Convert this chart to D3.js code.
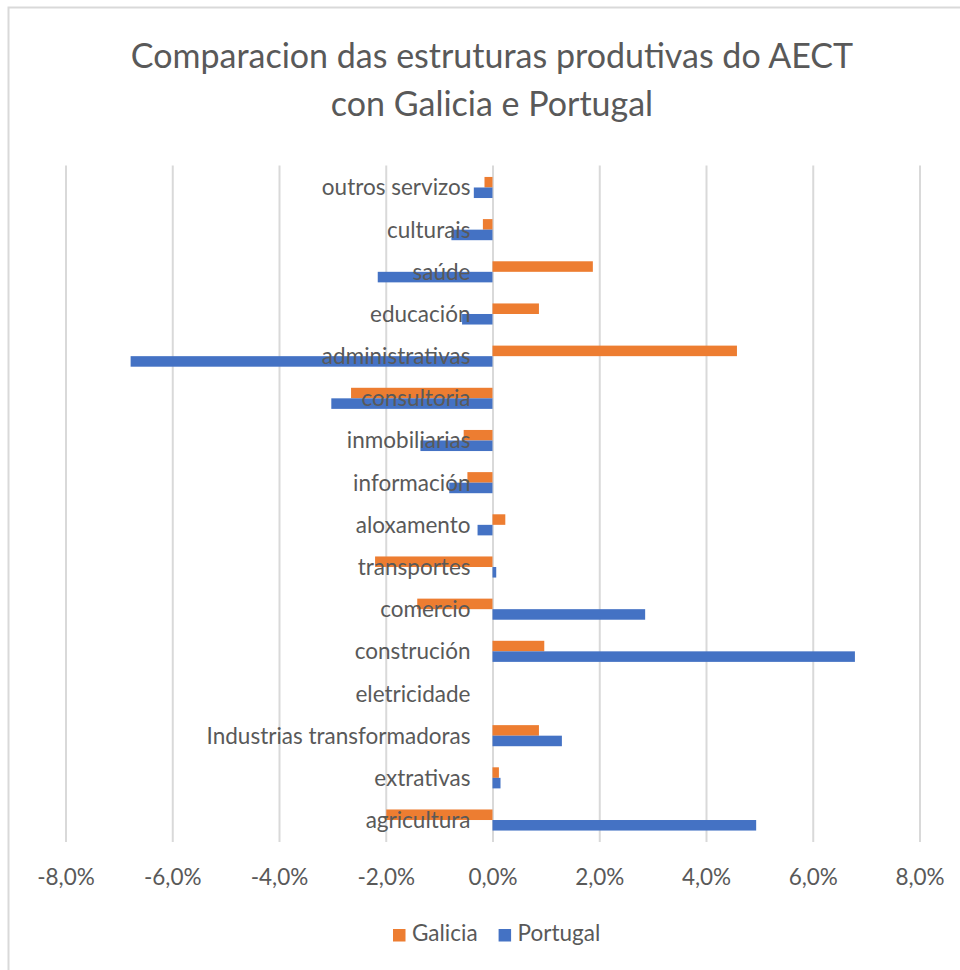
<!DOCTYPE html>
<html>
<head>
<meta charset="utf-8">
<script src="https://cdn.jsdelivr.net/npm/d3@7"></script>
<style>
  body { margin: 0; background: #fff; }
  svg text { font-family: Lato, "Open Sans", sans-serif; fill: #595959; }
</style>
</head>
<body>
<svg id="chart" width="960" height="970"></svg>
<script>
// data, in the sheet's order (first row is drawn at the bottom)
var categories = ["agricultura", "extrativas", "Industrias transformadoras", "eletricidade",
  "construción", "comercio", "transportes", "aloxamento", "información", "inmobiliarias",
  "consultoria", "administrativas", "educación", "saúde", "culturais", "outros servizos"];
var galicia = [-1.99, 0.12, 0.87, 0, 0.97, -1.41, -2.2, 0.24, -0.47, -0.54, -2.65, 4.58, 0.87, 1.88, -0.18, -0.15];
var portugal = [4.94, 0.15, 1.30, 0, 6.79, 2.86, 0.07, -0.28, -0.81, -1.35, -3.02, -6.78, -0.57, -2.15, -0.77, -0.35];
var seriesNames = ["Galicia", "Portugal"];
var seriesColors = ["#ED7D31", "#4472C4"];
var xTicks = [-8, -6, -4, -2, 0, 2, 4, 6, 8];
var titleLines = ["Comparacion das estruturas produtivas do AECT", "con Galicia e Portugal"];

var svg = d3.select("#chart");

// chart frame
svg.append("rect")
  .attr("x", 8.5).attr("y", 7.5)
  .attr("width", 1000).attr("height", 1000)
  .attr("fill", "#fff")
  .attr("stroke", "#d9d9d9")
  .attr("stroke-width", 2);

var plotTop = 166.4, plotBottom = 841.1;

var x = d3.scaleLinear().domain([-8, 8]).range([65.5, 919.5]);

var y = d3.scaleBand()
  .domain(categories.slice().reverse())
  .range([plotTop, plotBottom])
  .padding(0);

var ySeries = d3.scaleBand()
  .domain(seriesNames)
  .range([0, y.bandwidth()])
  .paddingInner(0)
  .paddingOuter(1);

var pt = d3.formatLocale({ decimal: ",", thousands: ".", grouping: [3], currency: ["", "€"], minus: "-" });
var fmt = pt.format(".1f");

// gridlines + tick labels
var xAxis = d3.axisBottom(x)
  .tickValues(xTicks)
  .tickSizeInner(-(plotBottom - plotTop + 2))
  .tickSizeOuter(0)
  .tickPadding(27)
  .tickFormat(function (d) { return fmt(d) + "%"; });

var gx = svg.append("g")
  .attr("transform", "translate(0," + (plotBottom + 1) + ")")
  .call(xAxis);
gx.select(".domain").remove();
gx.selectAll(".tick line").attr("stroke", "#d9d9d9").attr("stroke-width", 2);
gx.selectAll(".tick text")
  .attr("font-size", 22.5)
  .attr("fill", "#595959")
  .attr("font-family", "Lato, sans-serif");

// bars
var rows = categories.map(function (c, i) {
  return { cat: c, values: [galicia[i], portugal[i]] };
});

var groups = svg.append("g").selectAll("g")
  .data(rows)
  .join("g")
  .attr("transform", function (d) { return "translate(0," + y(d.cat) + ")"; });

groups.selectAll("rect")
  .data(function (d) {
    return d.values.map(function (v, j) { return { name: seriesNames[j], value: v, color: seriesColors[j] }; });
  })
  .join("rect")
  .attr("x", function (d) { return x(Math.min(0, d.value)); })
  .attr("y", function (d) { return ySeries(d.name); })
  .attr("width", function (d) { return Math.abs(x(d.value) - x(0)); })
  .attr("height", ySeries.bandwidth())
  .attr("fill", function (d) { return d.color; });

// category labels (drawn over the bars, like the original)
svg.append("g").selectAll("text")
  .data(categories)
  .join("text")
  .attr("x", 470.5)
  .attr("y", function (d) { return y(d) + y.bandwidth() / 2 + 8; })
  .attr("text-anchor", "end")
  .attr("font-size", 22.5)
  .text(function (d) { return d; });

// title
svg.append("g").selectAll("text")
  .data(titleLines)
  .join("text")
  .attr("x", 492)
  .attr("y", function (d, i) { return 68 + i * 48; })
  .attr("text-anchor", "middle")
  .attr("font-size", 34)
  .text(function (d) { return d; });

// legend
var legend = svg.append("g");
var lx = 393;
seriesNames.forEach(function (name, i) {
  legend.append("rect")
    .attr("x", lx).attr("y", 929)
    .attr("width", 12.5).attr("height", 12.5)
    .attr("fill", seriesColors[i]);
  var t = legend.append("text")
    .attr("x", lx + 19)
    .attr("y", 941)
    .attr("font-size", 22.5)
    .text(name);
  lx = lx + 19 + t.node().getComputedTextLength() + 21;
});
</script>
</body>
</html>
